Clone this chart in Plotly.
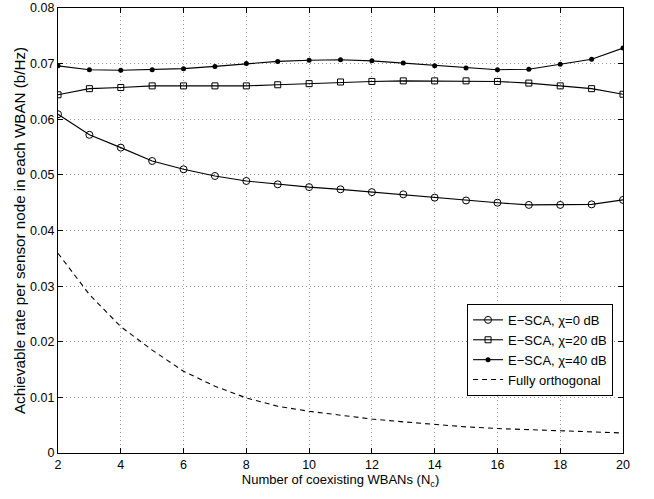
import plotly.graph_objects as go

N_c = list(range(2, 21))
esca_chi0 = [0.0609, 0.0572, 0.0549, 0.0525, 0.0510, 0.0498, 0.0489, 0.0483, 0.0478, 0.0474,
             0.0469, 0.0465, 0.0459, 0.0454, 0.0450, 0.0446, 0.0446, 0.0447, 0.0455]
esca_chi20 = [0.0644, 0.0655, 0.0657, 0.0660, 0.0660, 0.0660, 0.0660, 0.0662, 0.0664, 0.0667,
              0.0668, 0.0669, 0.0669, 0.0669, 0.0668, 0.0665, 0.0660, 0.0655, 0.0645]
esca_chi40 = [0.0696, 0.0689, 0.0688, 0.0689, 0.0691, 0.0695, 0.0700, 0.0704, 0.0706, 0.0707,
              0.0705, 0.0701, 0.0696, 0.0692, 0.0689, 0.0690, 0.0699, 0.0708, 0.0728]
fully_orth = [0.0359, 0.0285, 0.0227, 0.0185, 0.0147, 0.0120, 0.0099, 0.0084, 0.0075, 0.0068,
              0.0061, 0.0056, 0.0051, 0.0047, 0.0044, 0.0042, 0.0040, 0.0038, 0.0036]

x_ticks = list(range(2, 21, 2))
y_ticks = [0, 0.01, 0.02, 0.03, 0.04, 0.05, 0.06, 0.07, 0.08]
y_labels = ["0", "0.01", "0.02", "0.03", "0.04", "0.05", "0.06", "0.07", "0.08"]

FONT = "Liberation Sans, Arial, Helvetica, sans-serif"

fig = go.Figure()
line = dict(color="black", width=1.1)
fig.add_trace(go.Scatter(x=N_c, y=esca_chi0, mode="lines+markers", name="E\u2212SCA, \u03c7=0 dB",
                         line=line, marker=dict(symbol="circle-open", size=7, color="black", line=dict(width=1))))
fig.add_trace(go.Scatter(x=N_c, y=esca_chi20, mode="lines+markers", name="E\u2212SCA, \u03c7=20 dB",
                         line=line, marker=dict(symbol="square-open", size=6, color="black", line=dict(width=1))))
fig.add_trace(go.Scatter(x=N_c, y=esca_chi40, mode="lines+markers", name="E\u2212SCA, \u03c7=40 dB",
                         line=line, marker=dict(symbol="circle", size=5, color="black")))
fig.add_trace(go.Scatter(x=N_c, y=fully_orth, mode="lines", name="Fully orthogonal",
                         line=dict(color="black", width=1.1, dash="5px,4px")))

axis_common = dict(showline=True, linecolor="black", linewidth=1.2, mirror="ticks",
                   ticks="inside", ticklen=5, tickcolor="black",
                   showgrid=True, gridcolor="#9a9a9a", griddash="1px,3px", gridwidth=1,
                   zeroline=False, automargin=False,
                   tickfont=dict(size=12.5, color="black", family=FONT))

fig.update_layout(
    width=654, height=499,
    margin=dict(l=58, r=31, t=8, b=46),
    paper_bgcolor="white", plot_bgcolor="white",
    font=dict(family=FONT, size=13, color="black"),
    xaxis=dict(range=[2, 20], tickvals=x_ticks,
               title=dict(text="Number of coexisting WBANs (N<sub>c</sub>)",
                          font=dict(size=13, family=FONT), standoff=0),
               **axis_common),
    yaxis=dict(range=[0, 0.08], tickvals=y_ticks, ticktext=y_labels,
               title=dict(text="Achievable rate per sensor node in each WBAN (b/Hz)",
                          font=dict(size=15.2, family=FONT), standoff=0),
               **axis_common),
    legend=dict(x=0.724, y=0.335, xanchor="left", yanchor="top", bgcolor="white",
                bordercolor="black", borderwidth=1, font=dict(size=13, family=FONT),
                tracegroupgap=0, itemwidth=30),
    showlegend=True,
)

fig.write_html("out.html", config={"displayModeBar": False},
               post_script="document.body.style.margin='0px';document.body.style.overflow='hidden';")
